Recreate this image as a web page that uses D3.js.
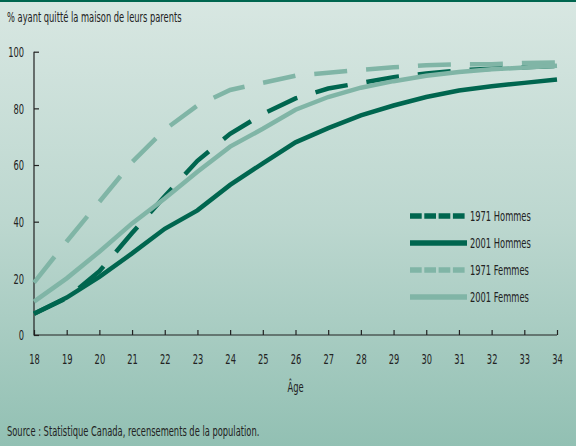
<!DOCTYPE html>
<html>
  <head>
    <meta charset="utf-8">
    <title>Départ du foyer parental</title>
    <script src="https://cdn.jsdelivr.net/npm/d3@7"></script>
	<style>
		body { margin:0; }
		svg { display:block; }
		text {
			font-family:"DejaVu Sans Condensed","DejaVu Sans",sans-serif;
			font-stretch:condensed;
			fill:#222;
			font-size:14px;
		}
	</style>
  </head>
  <body>
	<svg></svg>
    <script>
	// donnees
	var ages = [18,19,20,21,22,23,24,25,26,27,28,29,30,31,32,33,34];
	var hommes1971 = [7.5,13,22.5,36,49,61.5,71,78,83.5,87,89,91,92.3,93.4,94,94.5,95];
	var hommes2001 = [7.5,13.2,20.5,28.8,37.5,44,53,60.6,68,73,77.5,81,84,86.3,87.8,89,90.2];
	var femmes1971 = [18.5,33,47,61,72.5,81,86.5,89,91.5,92.6,93.6,94.5,95.2,95.6,95.6,96,96.2];
	var femmes2001 = [11.8,20,29.4,39.4,48.2,57.6,66.5,72.8,79.5,84,87.3,89.6,91.5,92.8,93.8,94.4,95];
	var yTicks = [0,20,40,60,80,100];
	var seriesNames = ["1971 Hommes","2001 Hommes","1971 Femmes","2001 Femmes"];

	var width = 576, height = 446;
	var dark = "#00664f", light = "#80b5a6";

	var svg = d3.select("svg").attr("width", width).attr("height", height);

	// fond degrade
	var grad = svg.append("defs").append("linearGradient")
		.attr("id","fond").attr("x1",0).attr("y1",0).attr("x2",0).attr("y2",1);
	grad.append("stop").attr("offset","0%").attr("stop-color","#d8e7e2");
	grad.append("stop").attr("offset","50%").attr("stop-color","#bcd7cf");
	grad.append("stop").attr("offset","100%").attr("stop-color","#92c0b3");
	svg.append("rect").attr("width",width).attr("height",height).attr("fill","url(#fond)");
	svg.append("rect").attr("width",width).attr("height",2).attr("fill","#00664f");

	var x = d3.scaleLinear().domain([18,34]).range([34,557]);
	var y = d3.scaleLinear().domain([0,100]).range([335,51.7]);

	// axes
	var axisY = svg.append("g").attr("transform","translate(34,0)")
		.call(d3.axisRight(y).tickValues(yTicks).tickSize(5).tickFormat(d3.format("d")));
	axisY.selectAll("text").attr("x",-10).attr("text-anchor","end").attr("dy","0.35em");
	var axisX = svg.append("g").attr("transform","translate(0,335)")
		.call(d3.axisTop(x).tickValues(ages).tickSize(5).tickFormat(d3.format("d")));
	axisX.selectAll("text").attr("y",29).attr("dy",0).attr("text-anchor","middle");
	svg.selectAll(".domain").attr("d", null);
	svg.selectAll(".tick line").attr("stroke","#222").attr("stroke-width",1.2);
	svg.selectAll(".tick text").attr("font-size",null).attr("font-family",null).attr("fill","#222");
	svg.append("path").attr("fill","none").attr("stroke","#222").attr("stroke-width",1.2)
		.attr("d","M"+x(18)+","+y(100)+"V"+y(0)+"H"+x(34));

	var line = d3.line().x(function(d,i){ return x(ages[i]); }).y(function(d){ return y(d); });

	var series = [
		{name:seriesNames[0], values:hommes1971, color:dark, dash:"33,19"},
		{name:seriesNames[1], values:hommes2001, color:dark, dash:null},
		{name:seriesNames[2], values:femmes1971, color:light, dash:"33,19"},
		{name:seriesNames[3], values:femmes2001, color:light, dash:null}
	];

	series.forEach(function(s){
		svg.append("path").datum(s.values)
			.attr("d", line)
			.attr("fill","none")
			.attr("stroke", s.color)
			.attr("stroke-width",4.5)
			.attr("stroke-dasharray", s.dash);
	});

	// legende
	series.forEach(function(s,i){
		var ly = 216 + i*27;
		svg.append("line").attr("x1",410).attr("x2",467).attr("y1",ly).attr("y2",ly)
			.attr("stroke",s.color).attr("stroke-width",5.5)
			.attr("stroke-dasharray", s.dash ? "11.7,2.6" : null);
		svg.append("text").attr("x",470).attr("y",ly+5).text(s.name);
	});

	// textes
	svg.append("text").attr("x",7).attr("y",22).text("% ayant quitté la maison de leurs parents");
	svg.append("text").attr("x",x(26)).attr("y",392).attr("text-anchor","middle").text("Âge");
	svg.append("text").attr("x",7).attr("y",436).text("Source : Statistique Canada, recensements de la population.");

	// police etroite : on comprime chaque texte
	svg.selectAll("text").each(function(){
		var len = this.getComputedTextLength();
		d3.select(this).attr("textLength", len*0.66).attr("lengthAdjust","spacingAndGlyphs");
	});
    </script>
  </body>
</html>
